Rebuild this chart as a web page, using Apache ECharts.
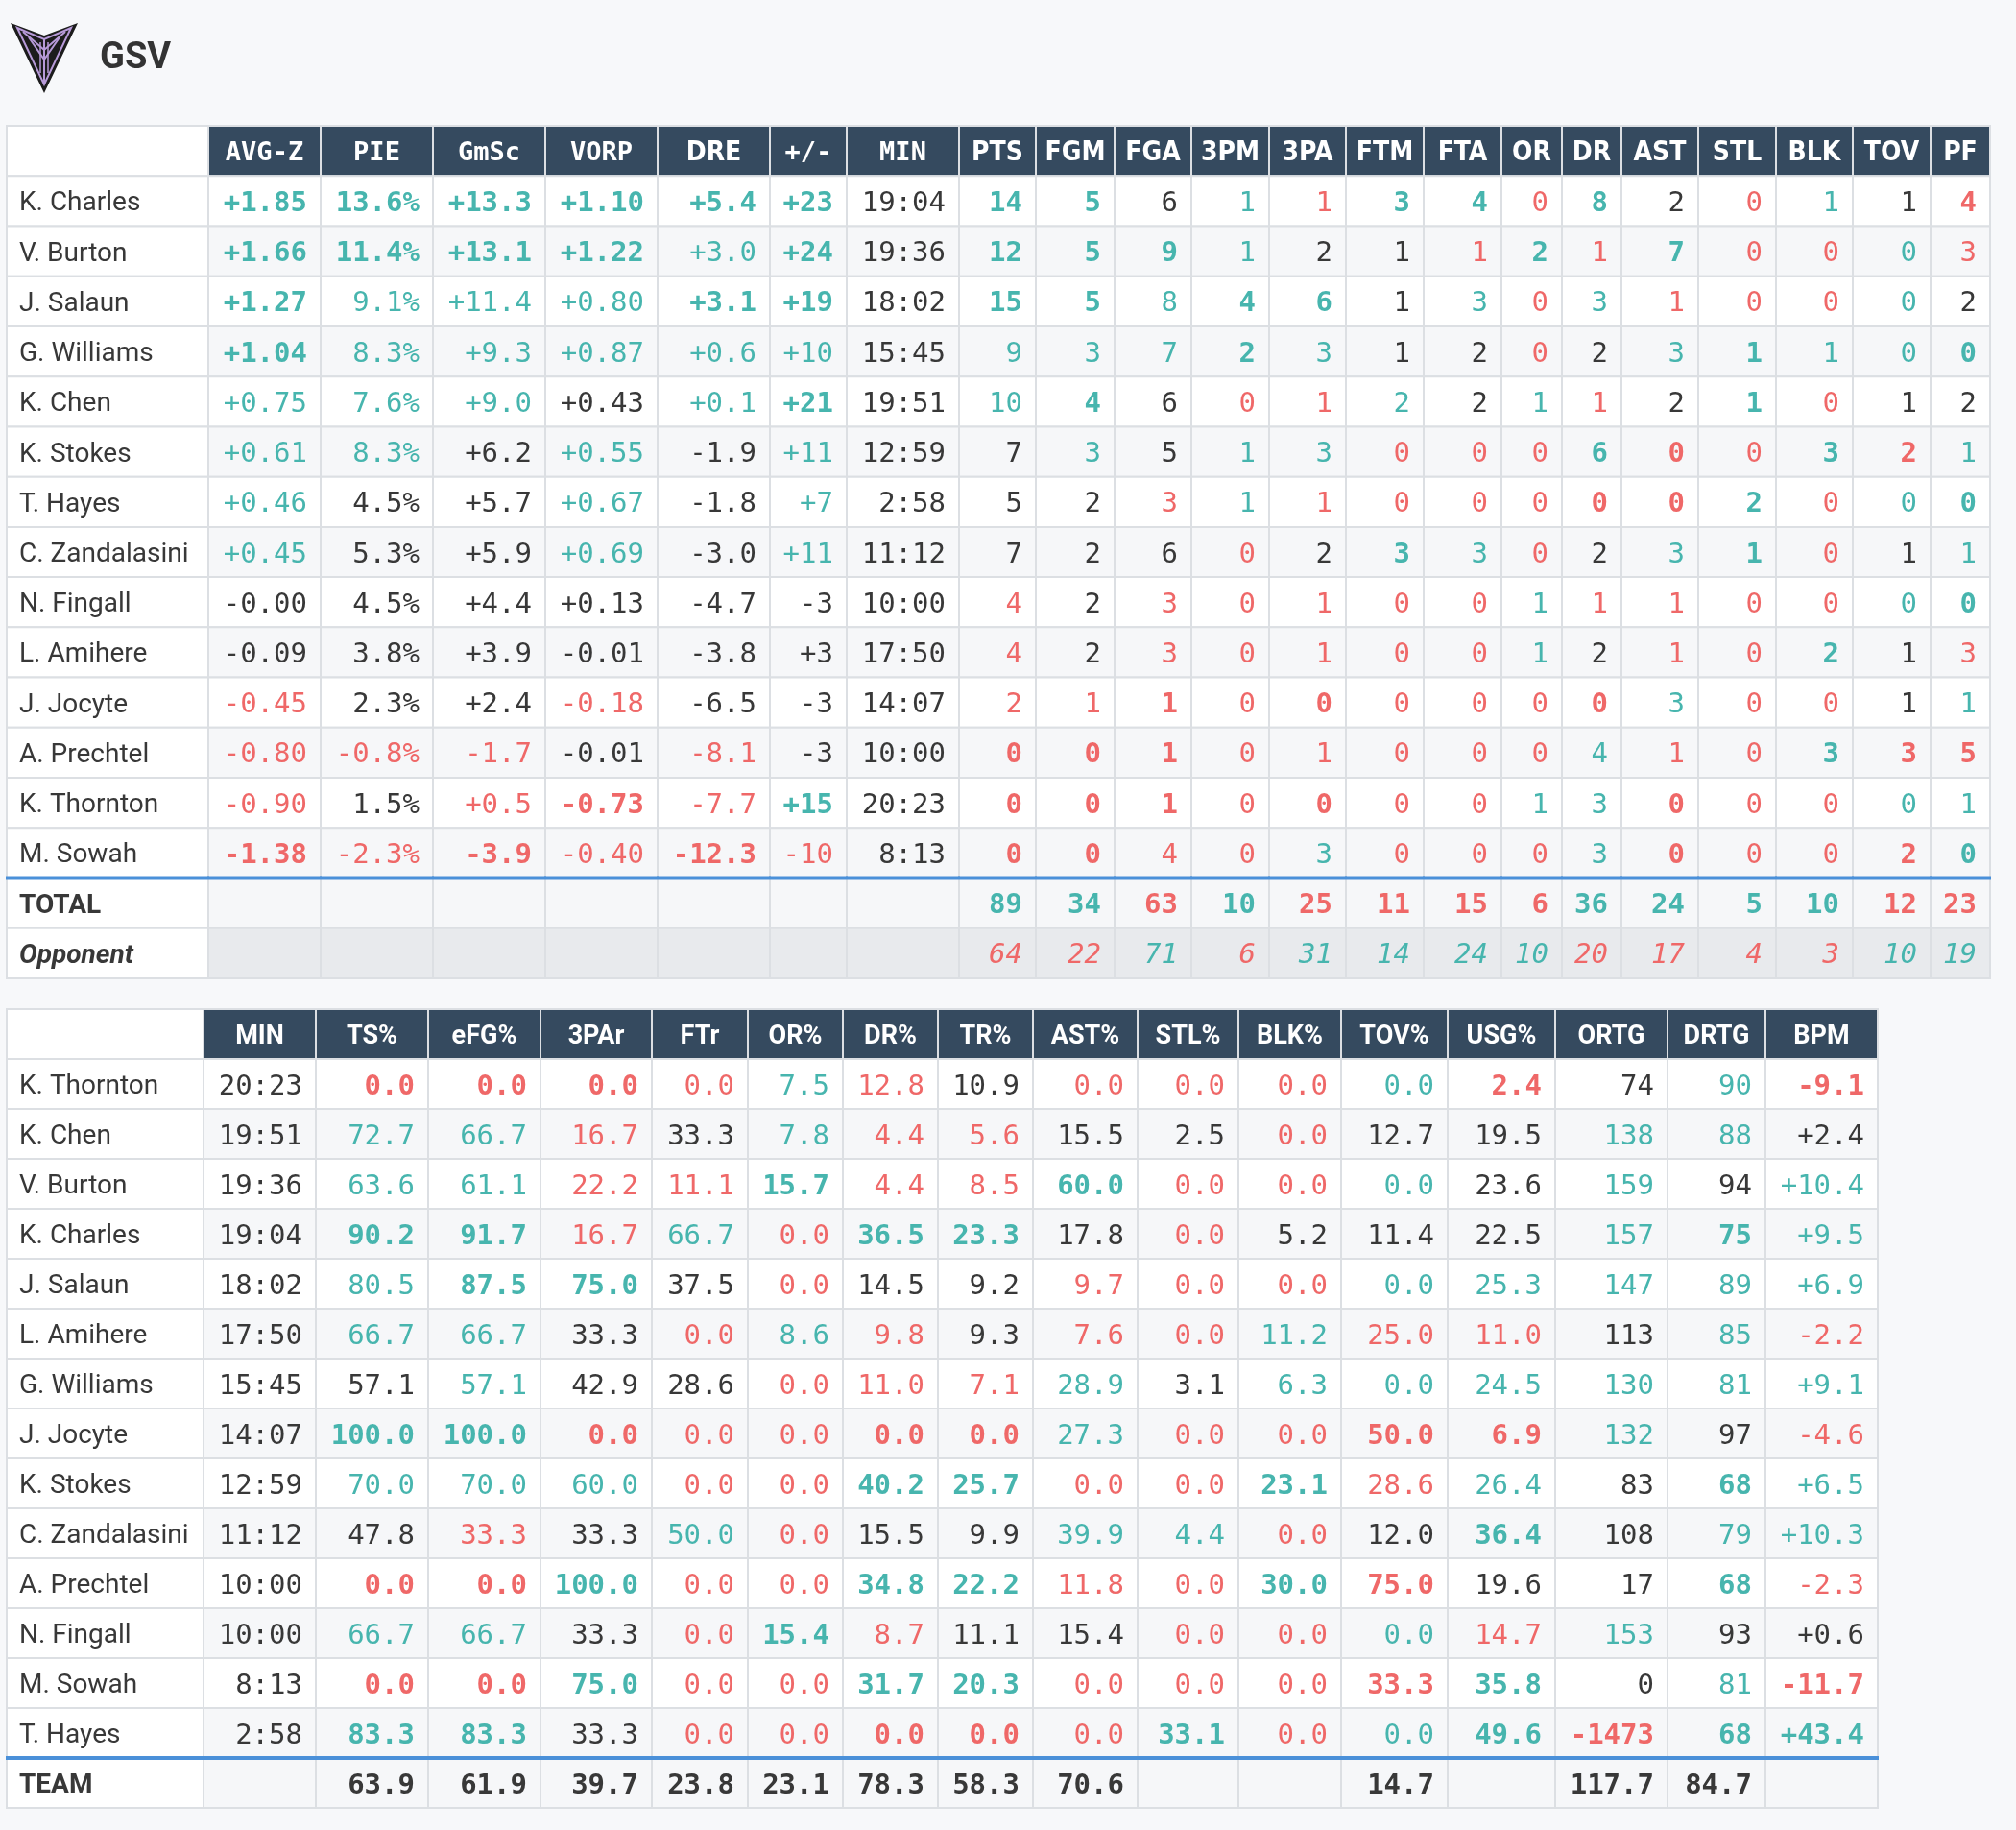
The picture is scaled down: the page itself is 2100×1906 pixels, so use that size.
<!DOCTYPE html>
<html>
<head>
<meta charset="utf-8">
<title>GSV box score</title>
<script src="https://cdn.jsdelivr.net/npm/echarts@6.0.0/dist/echarts.min.js"></script>
<style>
  html, body { margin: 0; padding: 0; background: #f7f8fa; }
  #chart { width: 2100px; height: 1906px; }
</style>
</head>
<body>
<div id="chart"></div>
<script>
// ---- box score (top table) ----
var boxHeaders = ['AVG-Z', 'PIE', 'GmSc', 'VORP', 'DRE', '+/-', 'MIN', 'PTS', 'FGM', 'FGA', '3PM', '3PA', 'FTM', 'FTA', 'OR', 'DR', 'AST', 'STL', 'BLK', 'TOV', 'PF'];
var boxPlayers = ['K. Charles', 'V. Burton', 'J. Salaun', 'G. Williams', 'K. Chen', 'K. Stokes', 'T. Hayes', 'C. Zandalasini', 'N. Fingall', 'L. Amihere', 'J. Jocyte', 'A. Prechtel', 'K. Thornton', 'M. Sowah'];
var boxStats = [
  ['+1.85', '13.6%', '+13.3', '+1.10', '+5.4', '+23', '19:04', '14', '5', '6', '1', '1', '3', '4', '0', '8', '2', '0', '1', '1', '4'],
  ['+1.66', '11.4%', '+13.1', '+1.22', '+3.0', '+24', '19:36', '12', '5', '9', '1', '2', '1', '1', '2', '1', '7', '0', '0', '0', '3'],
  ['+1.27', '9.1%', '+11.4', '+0.80', '+3.1', '+19', '18:02', '15', '5', '8', '4', '6', '1', '3', '0', '3', '1', '0', '0', '0', '2'],
  ['+1.04', '8.3%', '+9.3', '+0.87', '+0.6', '+10', '15:45', '9', '3', '7', '2', '3', '1', '2', '0', '2', '3', '1', '1', '0', '0'],
  ['+0.75', '7.6%', '+9.0', '+0.43', '+0.1', '+21', '19:51', '10', '4', '6', '0', '1', '2', '2', '1', '1', '2', '1', '0', '1', '2'],
  ['+0.61', '8.3%', '+6.2', '+0.55', '-1.9', '+11', '12:59', '7', '3', '5', '1', '3', '0', '0', '0', '6', '0', '0', '3', '2', '1'],
  ['+0.46', '4.5%', '+5.7', '+0.67', '-1.8', '+7', '2:58', '5', '2', '3', '1', '1', '0', '0', '0', '0', '0', '2', '0', '0', '0'],
  ['+0.45', '5.3%', '+5.9', '+0.69', '-3.0', '+11', '11:12', '7', '2', '6', '0', '2', '3', '3', '0', '2', '3', '1', '0', '1', '1'],
  ['-0.00', '4.5%', '+4.4', '+0.13', '-4.7', '-3', '10:00', '4', '2', '3', '0', '1', '0', '0', '1', '1', '1', '0', '0', '0', '0'],
  ['-0.09', '3.8%', '+3.9', '-0.01', '-3.8', '+3', '17:50', '4', '2', '3', '0', '1', '0', '0', '1', '2', '1', '0', '2', '1', '3'],
  ['-0.45', '2.3%', '+2.4', '-0.18', '-6.5', '-3', '14:07', '2', '1', '1', '0', '0', '0', '0', '0', '0', '3', '0', '0', '1', '1'],
  ['-0.80', '-0.8%', '-1.7', '-0.01', '-8.1', '-3', '10:00', '0', '0', '1', '0', '1', '0', '0', '0', '4', '1', '0', '3', '3', '5'],
  ['-0.90', '1.5%', '+0.5', '-0.73', '-7.7', '+15', '20:23', '0', '0', '1', '0', '0', '0', '0', '1', '3', '0', '0', '0', '0', '1'],
  ['-1.38', '-2.3%', '-3.9', '-0.40', '-12.3', '-10', '8:13', '0', '0', '4', '0', '3', '0', '0', '0', '3', '0', '0', '0', '2', '0']
];
var boxTotal = ['', '', '', '', '', '', '', '89', '34', '63', '10', '25', '11', '15', '6', '36', '24', '5', '10', '12', '23'];
var boxOpponent = ['', '', '', '', '', '', '', '64', '22', '71', '6', '31', '14', '24', '10', '20', '17', '4', '3', '10', '19'];

// tone of each cell: t/T teal, r/R red, d/D dark (capital = bold)
var boxTones = [
  'T T T T T T d T T d t r T T r T d r t d R',
  'T T T T t T d T T T t d d r T r T r r t r',
  'T t t t T T d T T t T T d t r t r r r t d',
  'T t t t t t d t t t T t d d r d t T t t T',
  't t t d t T d t T d r r t d t r d T r d d',
  't t d t d t d d t d t t r r r T R r T R t',
  't d d t d t d d d r t r r r r R R T r t T',
  't d d t d t d d d d r d T t r d t T r d t',
  'd d d d d d d r d r r r r r t r r r r t T',
  'd d d d d d d r d r r r r r t d r r T d r',
  'r d d r d d d r r R r R r r r R t r r d t',
  'r r r d r d d R R R r r r r r t r r T R R',
  'r d r R r T d R R R r R r r t t R r r t t',
  'R r R r R r d R R r r t r r r t R r r R T'
];
var boxTotalTones = 'd d d d d d d T T R T R R R R T T T T R R';
var boxOpponentTones = 'd d d d d d d r r t r t t t t r r r r t t';

// ---- advanced (bottom table) ----
var advHeaders = ['MIN', 'TS%', 'eFG%', '3PAr', 'FTr', 'OR%', 'DR%', 'TR%', 'AST%', 'STL%', 'BLK%', 'TOV%', 'USG%', 'ORTG', 'DRTG', 'BPM'];
var advPlayers = ['K. Thornton', 'K. Chen', 'V. Burton', 'K. Charles', 'J. Salaun', 'L. Amihere', 'G. Williams', 'J. Jocyte', 'K. Stokes', 'C. Zandalasini', 'A. Prechtel', 'N. Fingall', 'M. Sowah', 'T. Hayes'];
var advStats = [
  ['20:23', '0.0', '0.0', '0.0', '0.0', '7.5', '12.8', '10.9', '0.0', '0.0', '0.0', '0.0', '2.4', '74', '90', '-9.1'],
  ['19:51', '72.7', '66.7', '16.7', '33.3', '7.8', '4.4', '5.6', '15.5', '2.5', '0.0', '12.7', '19.5', '138', '88', '+2.4'],
  ['19:36', '63.6', '61.1', '22.2', '11.1', '15.7', '4.4', '8.5', '60.0', '0.0', '0.0', '0.0', '23.6', '159', '94', '+10.4'],
  ['19:04', '90.2', '91.7', '16.7', '66.7', '0.0', '36.5', '23.3', '17.8', '0.0', '5.2', '11.4', '22.5', '157', '75', '+9.5'],
  ['18:02', '80.5', '87.5', '75.0', '37.5', '0.0', '14.5', '9.2', '9.7', '0.0', '0.0', '0.0', '25.3', '147', '89', '+6.9'],
  ['17:50', '66.7', '66.7', '33.3', '0.0', '8.6', '9.8', '9.3', '7.6', '0.0', '11.2', '25.0', '11.0', '113', '85', '-2.2'],
  ['15:45', '57.1', '57.1', '42.9', '28.6', '0.0', '11.0', '7.1', '28.9', '3.1', '6.3', '0.0', '24.5', '130', '81', '+9.1'],
  ['14:07', '100.0', '100.0', '0.0', '0.0', '0.0', '0.0', '0.0', '27.3', '0.0', '0.0', '50.0', '6.9', '132', '97', '-4.6'],
  ['12:59', '70.0', '70.0', '60.0', '0.0', '0.0', '40.2', '25.7', '0.0', '0.0', '23.1', '28.6', '26.4', '83', '68', '+6.5'],
  ['11:12', '47.8', '33.3', '33.3', '50.0', '0.0', '15.5', '9.9', '39.9', '4.4', '0.0', '12.0', '36.4', '108', '79', '+10.3'],
  ['10:00', '0.0', '0.0', '100.0', '0.0', '0.0', '34.8', '22.2', '11.8', '0.0', '30.0', '75.0', '19.6', '17', '68', '-2.3'],
  ['10:00', '66.7', '66.7', '33.3', '0.0', '15.4', '8.7', '11.1', '15.4', '0.0', '0.0', '0.0', '14.7', '153', '93', '+0.6'],
  ['8:13', '0.0', '0.0', '75.0', '0.0', '0.0', '31.7', '20.3', '0.0', '0.0', '0.0', '33.3', '35.8', '0', '81', '-11.7'],
  ['2:58', '83.3', '83.3', '33.3', '0.0', '0.0', '0.0', '0.0', '0.0', '33.1', '0.0', '0.0', '49.6', '-1473', '68', '+43.4']
];
var advTeam = ['', '63.9', '61.9', '39.7', '23.8', '23.1', '78.3', '58.3', '70.6', '', '', '14.7', '', '117.7', '84.7', ''];
var advTones = [
  'd R R R r t r d r r r t R d t R',
  'd t t r d t r r d d r d d t t d',
  'd t t r r T r r T r r t d t d t',
  'd T T r t r T T d r d d d t T t',
  'd t T T d r d d r r r t t t t t',
  'd t t d r t r d r r t r r d t r',
  'd d t d d r r r t d t t t t t t',
  'd T T R r r R R t r r R R t d r',
  'd t t t r r T T r r T r t d T t',
  'd d r d t r d d t t r d T d t t',
  'd R R T r r T T r r T R d d T r',
  'd t t d r T r d d r r t r t d d',
  'd R R T r r T T r r r R T d t R',
  'd T T d r r R R r T r t T R T T'
];
var advTeamTones = 'D D D D D D D D D D D D D D D D';

// styles
var TEAL = '#47b5ae';
var RED = '#ef6868';
var DARK = '#383838';
var HEAD_BG = '#354a5f';
var LINE = '#dcdfe3';
var MONO = "'DejaVu Sans Mono', monospace";
var SANS = "Roboto, 'Noto Sans', sans-serif";
var COND = "'DejaVu Sans Condensed', Roboto, sans-serif";
var boxMonoHeads = ['AVG-Z', 'PIE', 'GmSc', 'VORP', '+/-', 'MIN'];

// column widths in px (layout)
var boxWidths = [210, 117, 117, 117, 117, 117, 80, 117, 80, 82, 80, 81, 80, 81, 81, 63, 62, 80, 81, 80, 81, 62];
var advWidths = [205, 117, 117, 117, 116, 100, 99, 99, 99, 109, 105, 107, 111, 112, 117, 102, 117];

function toneColor(t) {
  if (t === 't' || t === 'T') return TEAL;
  if (t === 'r' || t === 'R') return RED;
  return DARK;
}

// builds the cells of one table as a custom series
function tableSeries(idx, widths, headers, headFont, players, stats, tones, foot) {
  var edges = [0];
  widths.forEach(function (w) { edges.push(edges[edges.length - 1] + w); });
  var data = [], meta = [];
  function add(r, c, text, kind, tone) {
    data.push([edges[c], edges[c + 1], r, c]);
    meta.push({ text: text, kind: kind, tone: tone });
  }
  add(0, 0, '', 'corner');
  headers.forEach(function (h, i) { add(0, i + 1, h, 'head'); });
  players.forEach(function (p, i) {
    add(i + 1, 0, p, 'name');
    var tn = tones[i].split(' ');
    stats[i].forEach(function (v, j) { add(i + 1, j + 1, v, i % 2 ? 'even' : 'odd', tn[j]); });
  });
  foot.forEach(function (f, k) {
    var r = players.length + 1 + k;
    var tn = f.tones.split(' ');
    add(r, 0, f.label, f.kind + 'Name');
    f.values.forEach(function (v, j) { add(r, j + 1, v, f.kind, tn[j]); });
  });

  return {
    type: 'custom',
    xAxisIndex: idx,
    yAxisIndex: idx,
    encode: { x: [0, 1], y: 2 },
    data: data,
    renderItem: function (params, api) {
      var m = meta[params.dataIndex];
      var r = api.value(2);
      var p0 = api.coord([api.value(0), r]);
      var p1 = api.coord([api.value(1), r]);
      var h = api.size([0, 1])[1];
      var x0 = p0[0], x1 = p1[0], y0 = p0[1] - h / 2, yc = p0[1];
      var bg = '#ffffff';
      if (m.kind === 'head') bg = HEAD_BG;
      else if (m.kind === 'even' || m.kind === 'total' || m.kind === 'team') bg = '#f6f7f9';
      else if (m.kind === 'opp') bg = '#e8eaed';
      var children = [{
        type: 'rect',
        shape: { x: x0, y: y0, width: x1 - x0, height: h },
        style: { fill: bg, stroke: LINE, lineWidth: 2 }
      }];
      if (m.kind === 'total' || m.kind === 'totalName' || m.kind === 'team' || m.kind === 'teamName') {
        children.push({
          type: 'line',
          shape: { x1: x0 - 1, y1: y0, x2: x1 + 1, y2: y0 },
          style: { stroke: '#4a90d9', lineWidth: 4 }
        });
      }
      var font, fill = DARK, align = 'right', tx = x1 - 14;
      if (m.kind === 'head') {
        font = headFont(m.text); fill = '#ffffff'; align = 'center'; tx = (x0 + x1) / 2;
      } else if (m.kind === 'name' || m.kind.indexOf('Name') > 0) {
        align = 'left'; tx = x0 + 13;
        font = m.kind === 'name' ? '28px ' + SANS : (m.kind === 'oppName' ? 'italic bold 28px ' : 'bold 28px ') + SANS;
      } else if (m.kind === 'opp') {
        font = 'italic 29px ' + MONO; fill = toneColor(m.tone);
      } else {
        var bold = m.tone && m.tone === m.tone.toUpperCase();
        font = (bold ? 'bold ' : '') + '29px ' + MONO; fill = toneColor(m.tone);
      }
      if (m.text) {
        children.push({
          type: 'text',
          style: { text: m.text, x: tx, y: yc + 3, align: align, verticalAlign: 'middle', font: font, fill: fill }
        });
      }
      return { type: 'group', children: children };
    }
  };
}

var chart = echarts.init(document.getElementById('chart'));

var boxRows = [''].concat(boxPlayers, ['TOTAL', 'Opponent']);
var advRows = [''].concat(advPlayers, ['TEAM']);

var option = {
  backgroundColor: '#f7f8fa',
  animation: false,
  grid: [
    { left: 7, top: 131, width: 2066, height: 888 },
    { left: 7, top: 1051, width: 1949, height: 832 }
  ],
  xAxis: [
    { gridIndex: 0, type: 'value', min: 0, max: 2066, show: false },
    { gridIndex: 1, type: 'value', min: 0, max: 1949, show: false }
  ],
  yAxis: [
    { gridIndex: 0, type: 'category', data: boxRows, inverse: true, show: false },
    { gridIndex: 1, type: 'category', data: advRows, inverse: true, show: false }
  ],
  graphic: [
    // team logo
    { type: 'polygon', shape: { points: [[11, 24], [46, 37], [81, 24], [46, 97]] }, style: { fill: '#1c1c1c' } },
    { type: 'polygon', shape: { points: [[18, 29], [46, 41], [74, 29], [46, 88]] }, style: { fill: 'none', stroke: '#b79ad8', lineWidth: 2 } },
    { type: 'polyline', shape: { points: [[24, 33], [46, 52], [68, 33]] }, style: { stroke: '#b79ad8', lineWidth: 2 } },
    { type: 'polyline', shape: { points: [[30, 39], [46, 62], [62, 39]] }, style: { stroke: '#b79ad8', lineWidth: 2 } },
    { type: 'line', shape: { x1: 46, y1: 41, x2: 46, y2: 86 }, style: { stroke: '#b79ad8', lineWidth: 2 } },
    { type: 'line', shape: { x1: 42, y1: 44, x2: 42, y2: 76 }, style: { stroke: '#b79ad8', lineWidth: 1.5 } },
    { type: 'line', shape: { x1: 50, y1: 44, x2: 50, y2: 76 }, style: { stroke: '#b79ad8', lineWidth: 1.5 } },
    { type: 'text', left: 104, top: 42, style: { text: 'GSV', font: 'bold 38px ' + SANS, fill: '#333333' } }
  ],
  series: [
    tableSeries(0, boxWidths, boxHeaders, function (h) {
      return boxMonoHeads.indexOf(h) >= 0 ? 'bold 27px ' + MONO : 'bold 28px ' + COND;
    }, boxPlayers, boxStats, boxTones, [
      { label: 'TOTAL', values: boxTotal, tones: boxTotalTones, kind: 'total' },
      { label: 'Opponent', values: boxOpponent, tones: boxOpponentTones, kind: 'opp' }
    ]),
    tableSeries(1, advWidths, advHeaders, function () {
      return 'bold 27px ' + SANS;
    }, advPlayers, advStats, advTones, [
      { label: 'TEAM', values: advTeam, tones: advTeamTones, kind: 'team' }
    ])
  ]
};

chart.setOption(option);
</script>
</body>
</html>
